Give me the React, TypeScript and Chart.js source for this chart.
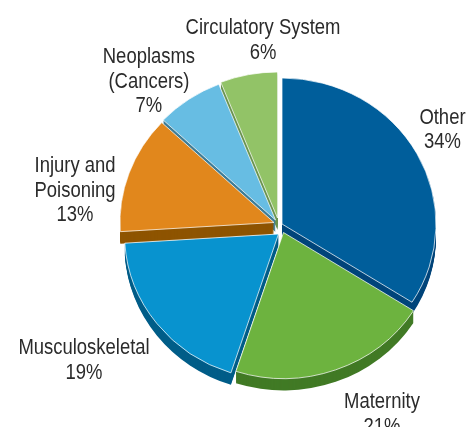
import React, { useEffect, useRef } from 'react';
import { Chart, ArcElement, PieController } from 'chart.js';

Chart.register(ArcElement, PieController);

// ---- data ----
const categories = ['Other', 'Maternity', 'Musculoskeletal', 'Injury and Poisoning', 'Neoplasms (Cancers)', 'Circulatory System'];
const labelLines = [['Other'], ['Maternity'], ['Musculoskeletal'], ['Injury and', 'Poisoning'], ['Neoplasms', '(Cancers)'], ['Circulatory System']];
const shares = [34, 21, 19, 13, 7, 6];

// ---- style ----
const topColors = ['#005e9b', '#6db33f', '#0893cf', '#e1871c', '#67bde3', '#92c367'];
const wallColors = ['#00457a', '#417a25', '#005d88', '#8e5400', '#3e7d96', '#6a9450'];
const explodeX = [3, 4.5, -0.5, -5, -3.5, -1.5];
const explodeY = [-2, 6.5, 8, -3.5, -6, -8];
const labelAngles = [59.1, 151.06, 235.84, 280.42, 318.4, 355.13];
const labelDistances = [190.5, 212.9, 235.6, 207.4, 195.9, 188.4];
const DEPTH = 12;
const SY = 0.948;
const FONT_SIZE = 22.5;
const LINE_H = 24.5;
const TEXT_COLOR = '#2b2b2b';

function pickFont(): { family: string; scaleX: number } {
  try {
    const c = document.createElement('canvas').getContext('2d');
    if (c) {
      c.font = '100px monospace';
      const base = c.measureText('Musculoskeletal').width;
      c.font = '100px "Liberation Sans Narrow", monospace';
      const narrow = c.measureText('Musculoskeletal').width;
      if (Math.abs(base - narrow) > 1) return { family: '"Liberation Sans Narrow"', scaleX: 1 };
    }
  } catch (e) {}
  return { family: '"Liberation Sans", Arial, sans-serif', scaleX: 0.82 };
}

export default function App() {
  const ref = useRef<HTMLCanvasElement | null>(null);
  useEffect(() => {
    if (!ref.current) return;
    const font = pickFont();
    const pie3d = {
      id: 'pie3d',
      beforeDatasetsDraw(chart: any) {
        const ctx = chart.ctx as CanvasRenderingContext2D;
        const arcs = chart.getDatasetMeta(0).data as any[];
        if (!arcs.length) return false;
        const cx = arcs[0].x, cy = arcs[0].y;
        const frame = (i: number, dy: number) => {
          ctx.translate(explodeX[i], explodeY[i] + dy);
          ctx.translate(cx, cy);
          ctx.scale(1, SY);
          ctx.translate(-cx, -cy);
        };
        // side walls (extrusion)
        for (let d = DEPTH; d >= 1; d--) {
          arcs.forEach((arc, i) => {
            const { startAngle, endAngle, outerRadius, x, y } = arc;
            ctx.save();
            frame(i, d);
            ctx.beginPath();
            ctx.moveTo(x, y);
            ctx.arc(x, y, outerRadius, startAngle, endAngle);
            ctx.closePath();
            ctx.fillStyle = wallColors[i];
            ctx.fill();
            ctx.restore();
          });
        }
        // top faces, drawn by the arc elements themselves
        arcs.forEach((arc, i) => {
          ctx.save();
          frame(i, 0);
          arc.draw(ctx);
          ctx.restore();
        });
        return false;
      },
      afterDraw(chart: any) {
        const ctx = chart.ctx as CanvasRenderingContext2D;
        const arcs = chart.getDatasetMeta(0).data as any[];
        if (!arcs.length) return;
        const cx = arcs[0].x, cy = arcs[0].y;
        ctx.save();
        ctx.fillStyle = TEXT_COLOR;
        ctx.textAlign = 'center';
        ctx.textBaseline = 'alphabetic';
        ctx.font = `${FONT_SIZE}px ${font.family}`;
        const cap = FONT_SIZE * 0.716;
        categories.forEach((_, i) => {
          const lines = [...labelLines[i], `${shares[i]}%`];
          const th = (labelAngles[i] * Math.PI) / 180;
          const lx = cx + Math.sin(th) * labelDistances[i];
          const ly = cy - Math.cos(th) * labelDistances[i];
          const n = lines.length;
          lines.forEach((t, j) => {
            const by = ly + (j - (n - 1) / 2) * LINE_H + cap / 2;
            ctx.save();
            ctx.translate(lx, by);
            ctx.scale(font.scaleX, 1);
            ctx.fillText(t, 0, 0);
            ctx.restore();
          });
        });
        ctx.restore();
      },
    };

    const chart = new Chart(ref.current, {
      type: 'pie',
      data: {
        labels: categories,
        datasets: [
          {
            data: shares,
            backgroundColor: topColors,
            borderColor: 'rgba(255,255,255,0.75)',
            borderWidth: 1,
            radius: 154,
            clip: false,
          } as any,
        ],
      },
      options: {
        responsive: false,
        animation: false,
        events: [],
        layout: { padding: { left: 95, right: 6, top: 35, bottom: 10 } },
        plugins: { legend: { display: false }, tooltip: { enabled: false } },
      } as any,
      plugins: [pie3d],
    });
    return () => chart.destroy();
  }, []);

  return (
    <div style={{ position: 'absolute', left: 0, top: 0, width: 469, height: 427, background: '#fff' }}>
      <canvas ref={ref} width={469} height={427} style={{ display: 'block' }} />
    </div>
  );
}
